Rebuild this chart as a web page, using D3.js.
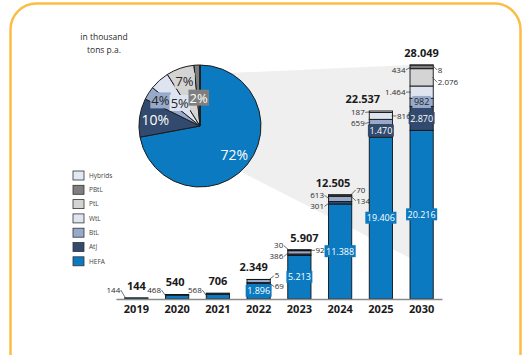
<!DOCTYPE html>
<html>
<head>
<meta charset="utf-8">
<script src="https://cdn.jsdelivr.net/npm/d3@7"></script>
<style>
html, body { margin: 0; padding: 0; background: #fff; }
svg { display: block; font-family: "Open Sans", sans-serif; }
</style>
</head>
<body>
<div id="chart"></div>
<script>
// values in thousand tons p.a.
const years   = ['2019', '2020', '2021', '2022', '2023', '2024', '2025', '2030'];
const hefa    = [144, 468, 568, 1896, 5213, 11388, 19406, 20216];
const atj     = [0, 72, 138, 69, 186, 301, 1470, 2870];
const btl     = [0, 0, 0, 379, 386, 613, 659, 982];
const wtl     = [0, 0, 0, 5, 92, 134, 816, 1464];
const ptl     = [0, 0, 0, 0, 30, 70, 187, 2076];
const pbtl    = [0, 0, 0, 0, 0, 0, 0, 434];
const hybrids = [0, 0, 0, 0, 0, 0, 0, 8];
const totals  = [144, 540, 706, 2349, 5907, 12505, 22537, 28049];

const seriesNames = ['HEFA', 'AtJ', 'BtL', 'WtL', 'PtL', 'PBtL', 'Hybrids'];
const seriesValues = [hefa, atj, btl, wtl, ptl, pbtl, hybrids];
const legendOrder = ['Hybrids', 'PBtL', 'PtL', 'WtL', 'BtL', 'AtJ', 'HEFA'];

// which small segments get a label beside the bar: [year, series, side, nudge]
const sideLabels = [
    ['2019', 'HEFA', 'left'], ['2020', 'HEFA', 'left'], ['2021', 'HEFA', 'left'],
    ['2022', 'AtJ', 'right'], ['2022', 'WtL', 'right'],
    ['2023', 'BtL', 'left'], ['2023', 'PtL', 'left'], ['2023', 'WtL', 'right'],
    ['2024', 'AtJ', 'left'], ['2024', 'BtL', 'left'], ['2024', 'WtL', 'right'], ['2024', 'PtL', 'right'],
    ['2025', 'BtL', 'left', 1], ['2025', 'PtL', 'left', 1], ['2025', 'WtL', 'right'],
    ['2030', 'WtL', 'left'], ['2030', 'PBtL', 'left', 3], ['2030', 'PtL', 'right', 5], ['2030', 'Hybrids', 'right', 5]
];
const totalNudge = [0, -2, 0, -5, 5, -7, -18, 0];
const pieLabelRadius = [0.73, 0.74, 0.77, 0.5, 0.78, 0.46, 0];

const colors = {
    HEFA: '#0B7AC0', AtJ: '#324A6D', BtL: '#97AACB', WtL: '#DEE5F1',
    PtL: '#D4D4D4', PBtL: '#7F7F7F', Hybrids: '#E3E9F3'
};
const darkText = { HEFA: false, AtJ: false, BtL: true, WtL: true, PtL: true, PBtL: false, Hybrids: true };

const W = 524, H = 355;
const fmt = d3.formatLocale({ decimal: ',', thousands: '.', grouping: [3], currency: ['', ''] }).format(',d');

const svg = d3.select('#chart').append('svg')
    .attr('width', W)
    .attr('height', H);

// frame
svg.append('rect')
    .attr('x', 10.5).attr('y', 3.5)
    .attr('width', 510).attr('height', 420)
    .attr('rx', 26)
    .attr('fill', '#fff')
    .attr('stroke', '#FBBD43')
    .attr('stroke-width', 2.5);

const rows = years.map((y, i) => {
    const r = { year: y };
    seriesNames.forEach((s, k) => { r[s] = seriesValues[k][i]; });
    return r;
});
const stacked = d3.stack().keys(seriesNames)(rows);

const x = d3.scaleBand()
    .domain(years)
    .range([116, 442])
    .paddingInner(0.43)
    .paddingOuter(0.215);

const y = d3.scaleLinear()
    .domain([0, d3.max(totals)])
    .range([299, 65]);

// pie of 2030
const pieCx = 200, pieCy = 126, pieR = 61;
const last = years.length - 1;
const pieData = d3.pie().sort(null).value(d => d.value)
    .startAngle(0).endAngle(2 * Math.PI)(
        seriesNames.map((s, k) => ({ key: s, value: seriesValues[k][last], k: k }))
    );
const pieTotal = d3.sum(pieData, d => d.value);

// grey zoom wedge from the pie to the 2030 bar
const onCircle = deg => {
    const a = deg * Math.PI / 180;
    return [pieCx + (pieR + 1) * Math.sin(a), pieCy - (pieR + 1) * Math.cos(a)];
};
const wedgeBottom = 258;
svg.append('path')
    .attr('d', d3.line()([
        onCircle(31),
        [x('2030'), y(totals[last])],
        [x('2030'), wedgeBottom],
        onCircle(138)
    ]) + 'Z')
    .attr('fill', '#EFEFEF');

// pie
const pieG = svg.append('g').attr('transform', `translate(${pieCx},${pieCy})`);
const arc = d3.arc().innerRadius(0).outerRadius(pieR);
pieG.selectAll('path.slice')
    .data(pieData.filter(d => d.value > 0))
    .enter().append('path')
    .attr('class', 'slice')
    .attr('d', arc)
    .attr('fill', d => colors[d.data.key])
    .attr('stroke', '#1b1b1b')
    .attr('stroke-width', 1);

pieData.forEach(d => {
    const pct = Math.round(d.value / pieTotal * 100);
    if (pct < 1) return;
    const big = d.data.key === 'HEFA' || d.data.key === 'AtJ';
    const rr = pieR * pieLabelRadius[d.data.k];
    const mid = (d.startAngle + d.endAngle) / 2;
    const lx = rr * Math.sin(mid), ly = -rr * Math.cos(mid);
    const g = pieG.append('g');
    const t = g.append('text')
        .attr('x', lx).attr('y', ly)
        .attr('dy', '0.36em')
        .attr('text-anchor', 'middle')
        .style('font-size', big ? '14px' : '13px')
        .attr('fill', darkText[d.data.key] ? '#262626' : '#fff')
        .text(pct + '%');
    if (!big) {
        const bb = t.node().getBBox();
        g.insert('rect', 'text')
            .attr('x', bb.x - 1).attr('y', bb.y + 1)
            .attr('width', bb.width + 2).attr('height', bb.height - 2)
            .attr('fill', colors[d.data.key]);
    }
});

// bars
const barG = svg.append('g');
stacked.forEach(layer => {
    barG.selectAll(null)
        .data(layer.filter(d => d[1] - d[0] > 0))
        .enter().append('rect')
        .attr('x', d => x(d.data.year))
        .attr('y', d => y(d[1]))
        .attr('width', x.bandwidth())
        .attr('height', d => y(d[0]) - y(d[1]))
        .attr('fill', colors[layer.key])
        .attr('stroke', '#141414')
        .attr('stroke-width', 0.9);
});

// axis
const axisG = svg.append('g')
    .attr('transform', `translate(0,${y(0)})`)
    .call(d3.axisBottom(x).tickSize(0).tickPadding(6).tickSizeOuter(0));
axisG.select('.domain').attr('stroke', '#8a8a8a').attr('stroke-width', 1.6);
axisG.selectAll('text')
    .style('font-size', '11px')
    .style('font-weight', 'bold')
    .style('font-family', '"Open Sans", sans-serif')
    .attr('fill', '#1a1a1a');

// totals
svg.selectAll('text.total')
    .data(totals)
    .enter().append('text')
    .attr('class', 'total')
    .attr('x', (d, i) => x(years[i]) + x.bandwidth() / 2 + totalNudge[i])
    .attr('y', d => y(d) - 8)
    .attr('text-anchor', 'middle')
    .style('font-size', '11px')
    .style('font-weight', 'bold')
    .attr('fill', '#1a1a1a')
    .text(d => fmt(d));

// inside labels with coloured boxes
const insideG = svg.append('g');
stacked.forEach(layer => {
    if (!['HEFA', 'AtJ', 'BtL'].includes(layer.key)) return;
    layer.forEach(d => {
        const h = y(d[0]) - y(d[1]);
        const beside = sideLabels.some(l => l[0] === d.data.year && l[1] === layer.key);
        if (h < 7 || beside) return;
        const g = insideG.append('g');
        const t = g.append('text')
            .attr('x', x(d.data.year) + x.bandwidth() / 2)
            .attr('y', (y(d[0]) + y(d[1])) / 2)
            .attr('dy', '0.35em')
            .attr('text-anchor', 'middle')
            .style('font-size', '9px')
            .attr('fill', darkText[layer.key] ? '#262626' : '#fff')
            .text(fmt(d.data[layer.key]));
        const bb = t.node().getBBox();
        g.insert('rect', 'text')
            .attr('x', bb.x - 1.5).attr('y', bb.y + 0.5)
            .attr('width', bb.width + 3).attr('height', bb.height - 1)
            .attr('fill', colors[layer.key]);
    });
});

// labels beside the bars, spread so they do not overlap
const gap = 11;
const groups = d3.group(sideLabels, l => l[0] + '|' + l[2]);
groups.forEach(list => {
    const items = list.map(l => {
        const yi = years.indexOf(l[0]);
        const layer = stacked[seriesNames.indexOf(l[1])];
        const seg = layer[yi];
        return {
            year: l[0], key: l[1], side: l[2], nudge: l[3] || 0,
            value: seg.data[l[1]],
            anchor: (y(seg[0]) + y(seg[1])) / 2
        };
    }).sort((a, b) => a.anchor - b.anchor);
    // cluster
    const clusters = [];
    items.forEach(it => {
        const c = clusters[clusters.length - 1];
        if (c && it.anchor - c[c.length - 1].anchor < gap) c.push(it);
        else clusters.push([it]);
    });
    clusters.forEach(c => {
        const m = d3.mean(c, d => d.anchor);
        c.forEach((it, i) => {
            it.ly = Math.min(m + (i - (c.length - 1) / 2) * gap, y(0) - 9) + it.nudge;
        });
    });
    items.forEach(it => {
        const left = it.side === 'left';
        const edge = left ? x(it.year) : x(it.year) + x.bandwidth();
        const tx = left ? edge - 4.5 : edge + 4.5;
        svg.append('text')
            .attr('x', tx)
            .attr('y', it.ly)
            .attr('dy', '0.35em')
            .attr('text-anchor', left ? 'end' : 'start')
            .style('font-size', '8px')
            .attr('fill', '#2b2b2b')
            .text(fmt(it.value));
        svg.append('line')
            .attr('x1', left ? edge - 4 : edge + 4)
            .attr('y1', it.ly)
            .attr('x2', left ? edge + 1 : edge - 1)
            .attr('y2', it.anchor)
            .attr('stroke', '#333')
            .attr('stroke-width', 0.7);
    });
});

// unit note
const note = svg.append('text')
    .attr('text-anchor', 'middle')
    .style('font-size', '8.5px')
    .attr('fill', '#2b2b2b');
note.append('tspan').attr('x', 104).attr('y', 40).text('in thousand');
note.append('tspan').attr('x', 104).attr('y', 53).text('tons p.a.');

// legend
const legend = svg.append('g').attr('transform', 'translate(73,171)');
legendOrder.forEach((s, i) => {
    const g = legend.append('g').attr('transform', `translate(0,${i * 14.3})`);
    g.append('rect')
        .attr('width', 11).attr('height', 9)
        .attr('fill', colors[s])
        .attr('stroke', '#333')
        .attr('stroke-width', 0.8);
    g.append('text')
        .attr('x', 16).attr('y', 4.5)
        .attr('dy', '0.35em')
        .style('font-size', '6.5px')
        .attr('fill', '#444')
        .text(s);
});
</script>
</body>
</html>
